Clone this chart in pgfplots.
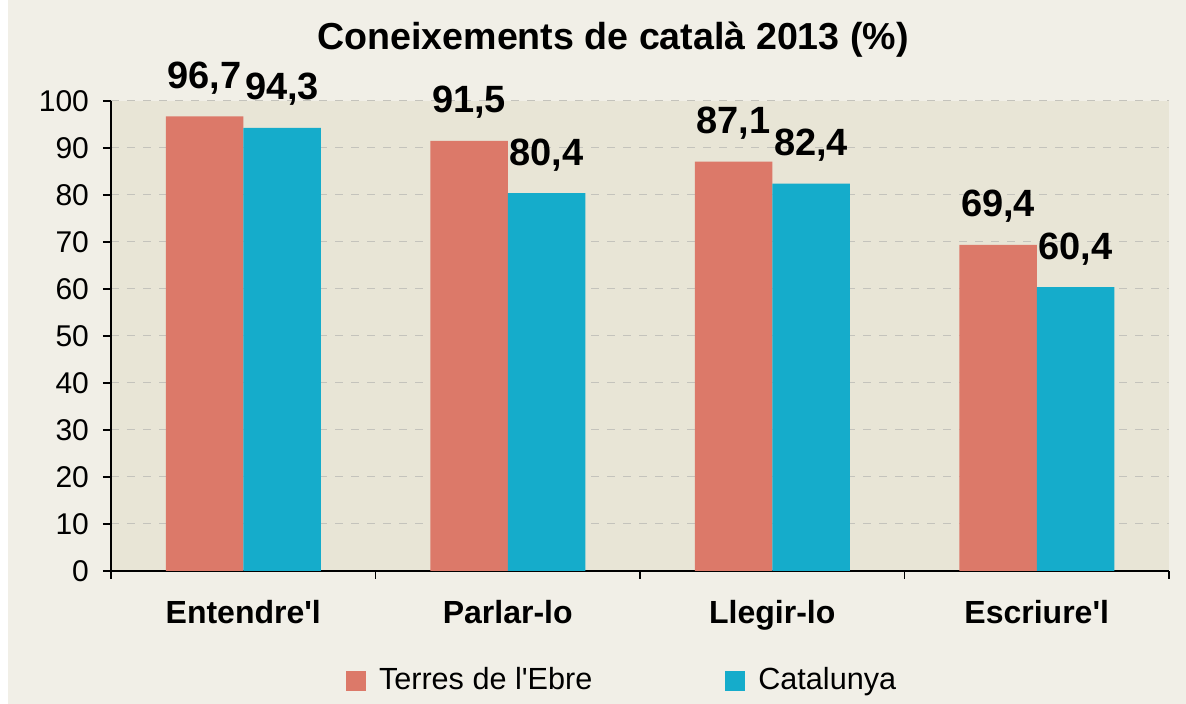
\documentclass[border=0pt]{standalone}
\usepackage{pgfplots}
\pgfplotsset{compat=1.18}
\usepackage{fontspec}
\setmainfont{Liberation Sans}
\definecolor{outerbg}{HTML}{F1EFE7}
\definecolor{plotbg}{HTML}{E8E5D6}
\definecolor{ebre}{HTML}{DC7969}
\definecolor{catc}{HTML}{15ACCB}
\definecolor{gridc}{HTML}{C4C3BC}
\begin{document}
\begin{tikzpicture}
\useasboundingbox (-55.5pt,-66.5pt) rectangle (537.5pt,285.5pt);
\fill[white] (-55.5pt,-66.5pt) rectangle (537.5pt,285.5pt);
\fill[outerbg] (-51.5pt,-66.5pt) rectangle (537.5pt,285.5pt);
\begin{axis}[
  at={(0pt,0pt)}, anchor=south west,
  scale only axis, width=529pt, height=235pt,
  ybar=0pt, bar width=38.75pt,
  xmin=-0.5, xmax=3.5, ymin=0, ymax=100,
  axis x line*=bottom, axis y line*=left,
  axis line style={black, line width=0.6pt},
  axis background/.style={fill=plotbg},
  tick align=outside, major tick length=4pt,
  tick style={black, line width=0.6pt},
  xtick={-0.5,0.5,1.5,2.5,3.5}, xticklabels={},
  extra x ticks={0,1,2,3},
  extra x tick labels={Entendre\textquotesingle l,Parlar-lo,Llegir-lo,Escriure\textquotesingle l},
  extra x tick style={major tick length=0pt, tick style={draw=none}, grid=none,
     xticklabel style={font=\bfseries\fontsize{16}{19}\selectfont, anchor=base, yshift=-26.5pt}},
  ytick={0,10,...,100},
  yticklabel style={font=\fontsize{15}{18}\selectfont, xshift=-3.5pt},
  /pgf/number format/assume math mode=true,
  ymajorgrids, grid style={gridc, dash pattern=on 4pt off 4pt, line width=0.5pt},
  title={Coneixements de català 2013 (\%)},
  title style={at={(0.4745,1)}, anchor=center, yshift=24.5pt, font=\bfseries\fontsize{18.8}{22}\selectfont},
  nodes near coords={\pgfmathprintnumber[fixed,fixed zerofill,precision=1,use comma,assume math mode=true]{\pgfplotspointmeta}},
  every node near coord/.append style={font=\bfseries\fontsize{19}{22}\selectfont, anchor=base, yshift=14pt, black},
  legend style={at={(0.484,-0.232)}, anchor=center, draw=none, fill=none,
     legend columns=2, font=\fontsize{15.3}{18}\selectfont,
     /tikz/every even column/.append style={column sep=64.5pt}},
  legend image code/.code={\fill[#1] (0pt,-5.5pt) rectangle (10pt,4.5pt); \path (14.5pt,0pt);},
]
\addplot[fill=ebre, draw=none] coordinates {(0,96.7) (1,91.5) (2,87.1) (3,69.4)};
\addplot[fill=catc, draw=none] coordinates {(0,94.3) (1,80.4) (2,82.4) (3,60.4)};
\legend{Terres de l\textquotesingle Ebre, Catalunya}
\end{axis}
\end{tikzpicture}
\end{document}
